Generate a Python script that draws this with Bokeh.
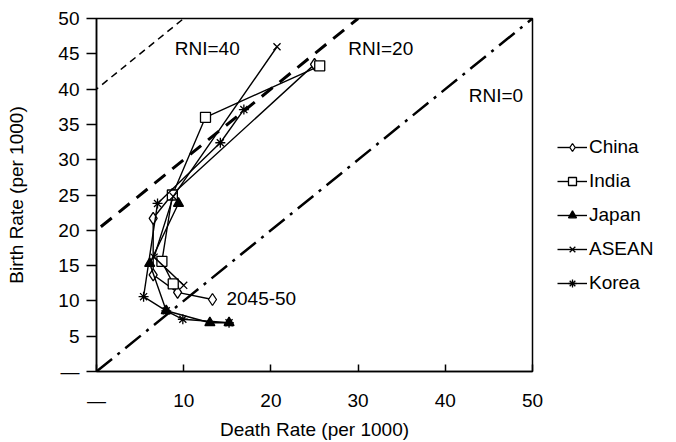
from bokeh.plotting import figure
from bokeh.layouts import row
from bokeh.models import Slope, Legend, LegendItem, Label, FixedTicker, Range1d
from bokeh.embed import file_html
from bokeh.resources import INLINE

# ---- data (death rate, birth rate per 1000) ----
china_dr = [25.0, 8.7, 6.5, 6.5, 9.3, 13.3]
china_br = [43.5, 25.1, 21.7, 13.7, 11.2, 10.2]
india_dr = [25.6, 12.5, 8.7, 7.5, 8.8]
india_br = [43.3, 36.0, 25.0, 15.6, 12.4]
japan_dr = [9.4, 6.1, 8.0, 13.0, 15.2]
japan_br = [23.8, 15.3, 8.6, 6.9, 6.9]
asean_dr = [20.7, 8.8, 6.6, 10.0]
asean_br = [46.0, 24.8, 16.2, 12.2]
korea_dr = [16.9, 14.2, 7.0, 5.4, 8.0, 9.9, 15.2]
korea_br = [37.1, 32.4, 23.8, 10.6, 8.6, 7.4, 6.9]

series_names = ["China", "India", "Japan", "ASEAN", "Korea"]

# RNI reference lines (birth - death)
rni_values = [40, 20, 0]
rni_dashes = ["7 5", "14 9", "20 7 3 7"]
rni_widths = [1.5, 3, 2.5]
rni_labels = ["RNI=40", "RNI=20", "RNI=0"]
rni_label_x = [12.7, 32.6, 45.8]
rni_label_y = [45.8, 45.8, 39.1]
period_label = "2045-50"
period_label_x = 18.9
period_label_y = 10.3

x_ticks = [0, 10, 20, 30, 40, 50]
y_ticks = [0, 5, 10, 15, 20, 25, 30, 35, 40, 45, 50]

FONT = "Liberation Sans"
FS = "19px"

p = figure(width=546, height=442, output_backend="svg", toolbar_location=None,
           x_range=Range1d(0, 50), y_range=Range1d(0, 50),
           min_border_left=96, min_border_right=14, min_border_top=18, min_border_bottom=71)
p.xgrid.visible = False
p.ygrid.visible = False
p.outline_line_color = "black"
p.outline_line_width = 1.5
p.background_fill_color = "white"
p.border_fill_color = "white"

for rv, dash, w in zip(rni_values, rni_dashes, rni_widths):
    p.add_layout(Slope(gradient=1, y_intercept=rv, line_color="black",
                       line_dash=dash, line_width=w))

for txt, lx, ly in zip(rni_labels, rni_label_x, rni_label_y):
    p.add_layout(Label(x=lx, y=ly, text=txt, text_font=FONT, text_font_size=FS,
                       text_align="center", text_baseline="middle", text_color="black"))
p.add_layout(Label(x=period_label_x, y=period_label_y, text=period_label, text_font=FONT,
                   text_font_size=FS, text_align="center", text_baseline="middle",
                   text_color="black"))

specs = [
    (china_dr, china_br, "diamond", 12, "white"),
    (india_dr, india_br, "square", 10, "white"),
    (japan_dr, japan_br, "triangle", 10, "black"),
    (asean_dr, asean_br, "x", 10, "black"),
    (korea_dr, korea_br, "asterisk", 10, "black"),
]

# legend panel as a separate small figure (its range keeps the data out of view)
leg = figure(width=130, height=442, output_backend="svg", toolbar_location=None,
             x_range=Range1d(-2, -1), y_range=Range1d(-2, -1), min_border=0)
leg.axis.visible = False
leg.grid.visible = False
leg.outline_line_color = None
leg.background_fill_color = "white"
leg.border_fill_color = "white"

items = []
for name, (xs, ys, mk, sz, fill) in zip(series_names, specs):
    p.line(xs, ys, line_color="black", line_width=1.4)
    p.scatter(xs, ys, marker=mk, size=sz, fill_color=fill,
              line_color="black", line_width=1.3)
    lr = leg.line(xs, ys, line_color="black", line_width=1.4)
    sr = leg.scatter(xs, ys, marker=mk, size=sz, fill_color=fill,
                     line_color="black", line_width=1.3)
    items.append(LegendItem(label=name, renderers=[lr, sr]))

legend = Legend(items=items, location=(11, 77), orientation="vertical",
                label_text_font=FONT, label_text_font_size=FS, label_text_color="black",
                glyph_width=30, glyph_height=20, label_height=20, spacing=12,
                label_standoff=2, padding=0, margin=0,
                border_line_color=None, background_fill_alpha=0)
leg.add_layout(legend, "center")

for ax in (p.xaxis, p.yaxis):
    ax.axis_line_color = "black"
    ax.axis_line_width = 1.5
    ax.major_tick_line_color = "black"
    ax.major_tick_line_width = 1.5
    ax.minor_tick_line_color = None
    ax.major_label_text_font = FONT
    ax.major_label_text_font_size = FS
    ax.major_label_text_color = "black"
    ax.axis_label_text_font = FONT
    ax.axis_label_text_font_size = FS
    ax.axis_label_text_font_style = "normal"
    ax.axis_label_text_color = "black"
    ax.major_label_overrides = {0: "—"}

p.xaxis.ticker = FixedTicker(ticks=x_ticks)
p.yaxis.ticker = FixedTicker(ticks=y_ticks)
p.xaxis.axis_label = "Death Rate (per 1000)"
p.yaxis.axis_label = "Birth Rate (per 1000)"
p.xaxis.major_tick_in = 7
p.xaxis.major_tick_out = 0
p.xaxis.major_label_standoff = 18
p.xaxis.axis_label_standoff = 5
p.yaxis.major_tick_in = 0
p.yaxis.major_tick_out = 10
p.yaxis.major_label_standoff = 7
p.yaxis.axis_label_standoff = 28

layout = row(p, leg)
open("out.html", "w").write(file_html(layout, INLINE))
